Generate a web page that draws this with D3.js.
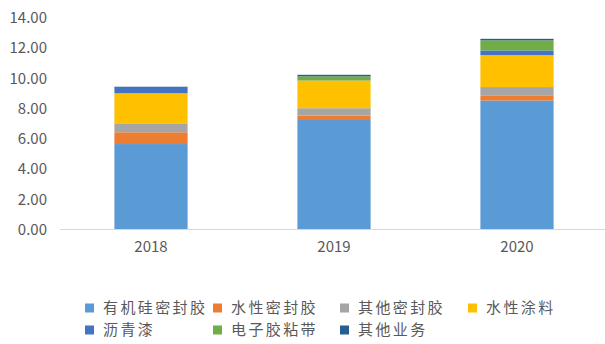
<!DOCTYPE html>
<html>
<head>
<meta charset="utf-8">
<script src="https://cdn.jsdelivr.net/npm/d3@7/dist/d3.min.js"></script>
<style>
  html, body { margin: 0; padding: 0; background: #fff; }
  svg { display: block; }
</style>
</head>
<body>
<svg id="chart" width="605" height="344"></svg>
<script>
// Revenue by product line, stacked per year
const years = ["2018", "2019", "2020"];
const seriesNames = ["有机硅密封胶", "水性密封胶", "其他密封胶", "水性涂料", "沥青漆", "电子胶粘带", "其他业务"];
const seriesColors = ["#5B9BD5", "#ED7D31", "#A5A5A5", "#FFC000", "#4472C4", "#70AD47", "#255E91"];
const siliconeSealant = [5.65, 7.24, 8.53];
const waterSealant    = [0.78, 0.30, 0.31];
const otherSealant    = [0.59, 0.48, 0.58];
const waterCoating    = [1.99, 1.83, 2.11];
const asphaltPaint    = [0.36, 0.00, 0.31];
const electronicTape  = [0.00, 0.28, 0.67];
const otherBusiness   = [0.07, 0.10, 0.10];
const yTicks = [0, 2, 4, 6, 8, 10, 12, 14];

const seriesValues = [siliconeSealant, waterSealant, otherSealant, waterCoating, asphaltPaint, electronicTape, otherBusiness];
const rows = years.map((y, i) => {
  const r = { year: y };
  seriesNames.forEach((n, k) => { r[n] = seriesValues[k][i]; });
  return r;
});

const svg = d3.select("#chart");
const font = "'Noto Sans CJK SC', 'Noto Sans', sans-serif";
const textColor = "#595959";

const x = d3.scaleBand().domain(years).range([59.5, 608.5]).paddingInner(0.6).paddingOuter(0.3);
const y = d3.scaleLinear().domain([0, 14]).range([229.5, 17.8]);

const stacked = d3.stack().keys(seriesNames)(rows);

// stacked bars
svg.append("g").selectAll("g")
  .data(stacked)
  .join("g")
  .attr("fill", (d, i) => seriesColors[i])
  .selectAll("rect")
  .data(d => d)
  .join("rect")
  .attr("x", d => x(d.data.year))
  .attr("width", x.bandwidth())
  .attr("y", d => y(d[1]))
  .attr("height", d => Math.max(0, y(d[0]) - y(d[1])));

// y axis labels
const yAxis = svg.append("g")
  .attr("transform", "translate(47,0)")
  .call(d3.axisLeft(y).tickValues(yTicks).tickFormat(d3.format(".2f")).tickSize(0).tickPadding(0));
yAxis.select(".domain").remove();
yAxis.selectAll("text")
  .attr("fill", textColor)
  .style("font-family", font)
  .style("font-size", "15px");

// x axis
const xAxis = svg.append("g")
  .attr("transform", "translate(0,229.5)")
  .call(d3.axisBottom(x).tickSize(0).tickPadding(12));
xAxis.select(".domain").attr("stroke", "#d9d9d9").attr("stroke-width", 1)
  .attr("d", "M60,0H605");
xAxis.selectAll("text")
  .attr("fill", textColor)
  .style("font-family", font)
  .style("font-size", "15px");

// legend, two rows of four columns
const legendCols = [85, 213, 340, 468];
const legendRows = [308, 330];
const legend = svg.append("g").selectAll("g")
  .data(seriesNames)
  .join("g")
  .attr("transform", (d, i) => `translate(${legendCols[i % 4]},${legendRows[Math.floor(i / 4)]})`);
legend.append("rect")
  .attr("x", 0).attr("y", -4.5).attr("width", 9).attr("height", 9)
  .attr("fill", (d, i) => seriesColors[i]);
legend.append("text")
  .attr("x", 18).attr("y", 0).attr("dy", "0.35em")
  .attr("fill", textColor)
  .style("font-family", font)
  .style("font-size", "15px")
  .style("letter-spacing", "2.4px")
  .text(d => d);
</script>
</body>
</html>
